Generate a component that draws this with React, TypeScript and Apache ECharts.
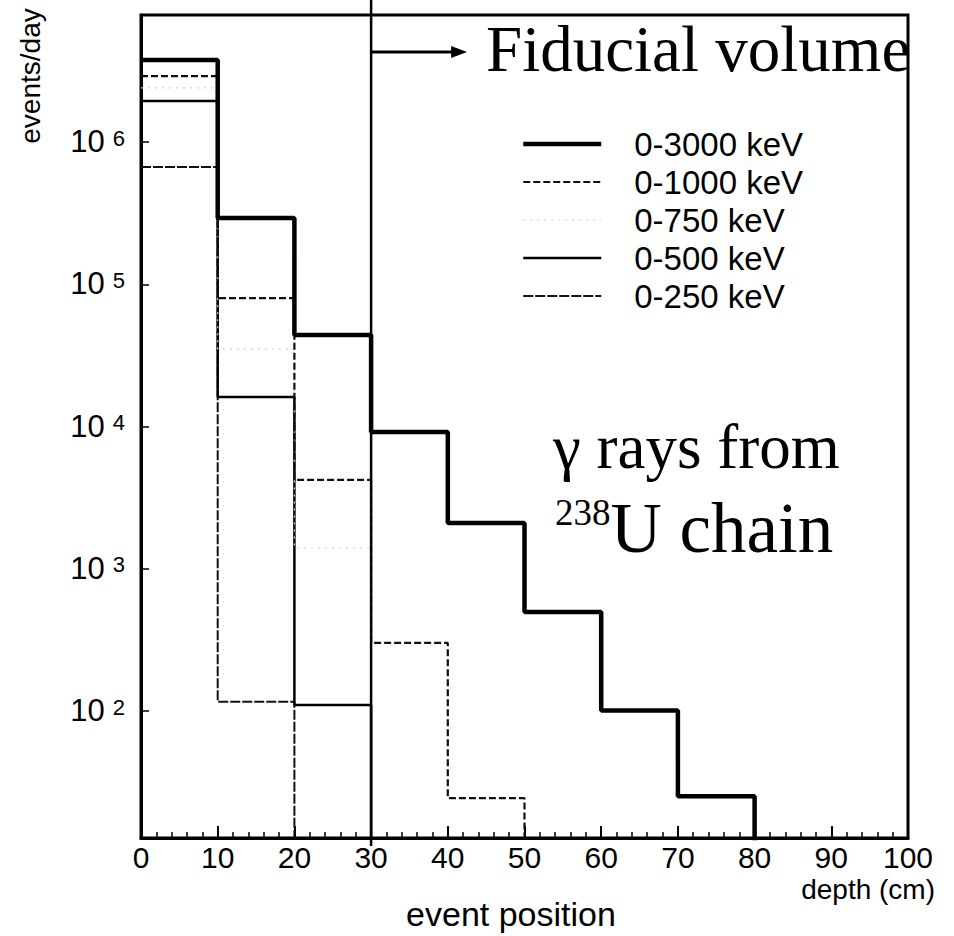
import React, { useEffect, useRef } from "react";
import * as echarts from "echarts";

// ---- data (events/day per 10 cm depth bin) ----
const binEdges = [0, 10, 20, 30, 40, 50, 60, 70, 80, 90, 100];
const seriesNames = ["0-3000 keV", "0-1000 keV", "0-750 keV", "0-500 keV", "0-250 keV"];
const rate3000 = [3.77e6, 2.92e5, 4.4e4, 9150, 2100, 497, 101, 25.2];
const rate1000 = [2.91e6, 8.0e4, 4210, 301, 24.4];
const rate750 = [2.4e6, 3.5e4, 1400];
const rate500 = [1.94e6, 1.61e4, 110];
const rate250 = [6.67e5, 116];
const xTickLabels = ["0", "10", "20", "30", "40", "50", "60", "70", "80", "90", "100"];
const zeroLevel = 1; // empty bins (below the visible log range)
const yMin = 12.8;
const yMax = 7.82e6;
const fiducialDepth = 30;

function histPoints(values: number[]) {
  const pts: number[][] = values.map((v, i) => [binEdges[i], v]);
  pts.push([binEdges[values.length], zeroLevel]);
  return pts;
}

const SANS = "Liberation Sans";
const SERIF = "Liberation Serif";

export default function App() {
  const ref = useRef<HTMLDivElement>(null);
  useEffect(() => {
    if (!ref.current) return;
    const chart = echarts.init(ref.current, undefined, { renderer: "svg" });
    const styles = [
      { color: "#000", width: 4.5, type: "solid" as any },
      { color: "#111", width: 2.2, type: [7, 3] as any },
      { color: "#cfcfcf", width: 1.2, type: [2, 5] as any },
      { color: "#000", width: 2.5, type: "solid" as any },
      { color: "#111", width: 2, type: [10, 2] as any },
    ];
    const allRates = [rate3000, rate1000, rate750, rate500, rate250];
    chart.setOption({
      animation: false,
      backgroundColor: "#fff",
      grid: {
        left: 141,
        right: 46,
        top: 15,
        bottom: 98,
        show: true,
        borderColor: "#000",
        borderWidth: 3,
        outerBoundsMode: "none",
      } as any,
      xAxis: {
        type: "value",
        min: 0,
        max: 100,
        interval: 10,
        axisLine: { show: true, lineStyle: { color: "#000", width: 3 } },
        axisTick: { show: true, inside: true, length: 12, lineStyle: { color: "#000", width: 2 } },
        minorTick: { show: true, splitNumber: 5, length: 6, lineStyle: { color: "#000", width: 1.5 } },
        splitLine: { show: false },
        axisLabel: {
          color: "#000",
          fontSize: 30,
          lineHeight: 30,
          fontFamily: SANS,
          margin: 4,
          formatter: (v: number) => xTickLabels[Math.round(v / 10)] ?? "",
        },
      },
      yAxis: {
        type: "log",
        min: yMin,
        max: yMax,
        logBase: 10,
        axisLine: { show: true, lineStyle: { color: "#000", width: 3 } },
        axisTick: { show: true, inside: true, length: 8, lineStyle: { color: "#000", width: 1.5 } },
        splitLine: { show: false },
        axisLabel: {
          margin: 16,
          showMinLabel: false,
          showMaxLabel: false,
          formatter: (v: number) => {
            const l = Math.log10(v);
            const e = Math.round(l);
            if (Math.abs(l - e) > 1e-6) return "";
            return `{b|10}{s|${e}}`;
          },
          rich: {
            b: { fontSize: 31, fontFamily: SANS, color: "#000", lineHeight: 30, padding: [20, 8, 0, 0], verticalAlign: "bottom" },
            s: { fontSize: 22, fontFamily: SANS, color: "#000", lineHeight: 22, verticalAlign: "top" },
          },
        },
      },
      legend: {
        orient: "vertical",
        left: 516,
        top: 120,
        itemWidth: 78,
        itemHeight: 10,
        itemGap: 0,
        selectedMode: false,
        itemStyle: { opacity: 0 },
        textStyle: { fontSize: 33, fontFamily: SANS, color: "#000", lineHeight: 38, padding: [0, 0, 0, 28] },
        data: seriesNames.map((n, i) => ({
          name: n,
          lineStyle: { width: styles[i].width, type: styles[i].type, color: styles[i].color },
        })),
      },
      series: allRates.map((r, i) => ({
        name: seriesNames[i],
        type: "line",
        step: "end",
        symbol: "none",
        silent: true,
        clip: true,
        data: histPoints(r),
        lineStyle: styles[i],
        itemStyle: { color: styles[i].color },
        z: 10 - i,
      })),
    });

    const px = chart.convertToPixel({ xAxisIndex: 0 }, fiducialDepth) as number;
    chart.setOption({
      graphic: [
        { type: "line", shape: { x1: px, y1: 0, x2: px, y2: 846 }, style: { stroke: "#000", lineWidth: 2.5 }, z: 100 },
        { type: "line", shape: { x1: px, y1: 52, x2: px + 84, y2: 52 }, style: { stroke: "#000", lineWidth: 3 }, z: 100 },
        { type: "polygon", shape: { points: [[px + 80, 46], [px + 96, 52], [px + 80, 58]] }, style: { fill: "#000" }, z: 100 },
        {
          type: "text", x: 486, y: 49, z: 100,
          style: { text: "Fiducial volume", fontSize: 65, fontFamily: SERIF, fill: "#000", verticalAlign: "middle", align: "left" },
        },
        {
          type: "text", x: 553, y: 447, z: 100,
          style: { text: "γ rays from", fontSize: 63, fontFamily: SERIF, fill: "#000", verticalAlign: "middle", align: "left" },
        },
        {
          type: "text", x: 555, y: 494, z: 100,
          style: {
            text: "{s|238}{m|U chain}",
            fill: "#000",
            align: "left",
            verticalAlign: "top",
            rich: {
              s: { fontSize: 37, fontFamily: SERIF, fill: "#000", lineHeight: 40, verticalAlign: "top" },
              m: { fontSize: 71, fontFamily: SERIF, fill: "#000", lineHeight: 69, padding: [12, 0, 0, 0], verticalAlign: "bottom" },
            },
          },
        },
        {
          type: "text", x: 30, y: 76, rotation: Math.PI / 2, z: 100,
          style: { text: "events/day", fontSize: 28, fontFamily: SANS, fill: "#000", align: "center", verticalAlign: "middle" },
        },
        {
          type: "text", x: 935, y: 889, z: 100,
          style: { text: "depth (cm)", fontSize: 28, fontFamily: SANS, fill: "#000", align: "right", verticalAlign: "middle" },
        },
        {
          type: "text", x: 511, y: 914, z: 100,
          style: { text: "event position", fontSize: 34, fontFamily: SANS, fill: "#000", align: "center", verticalAlign: "middle" },
        },
      ],
    });
    return () => chart.dispose();
  }, []);
  return <div ref={ref} style={{ position: "absolute", left: 0, top: 0, width: 954, height: 936 }} />;
}
